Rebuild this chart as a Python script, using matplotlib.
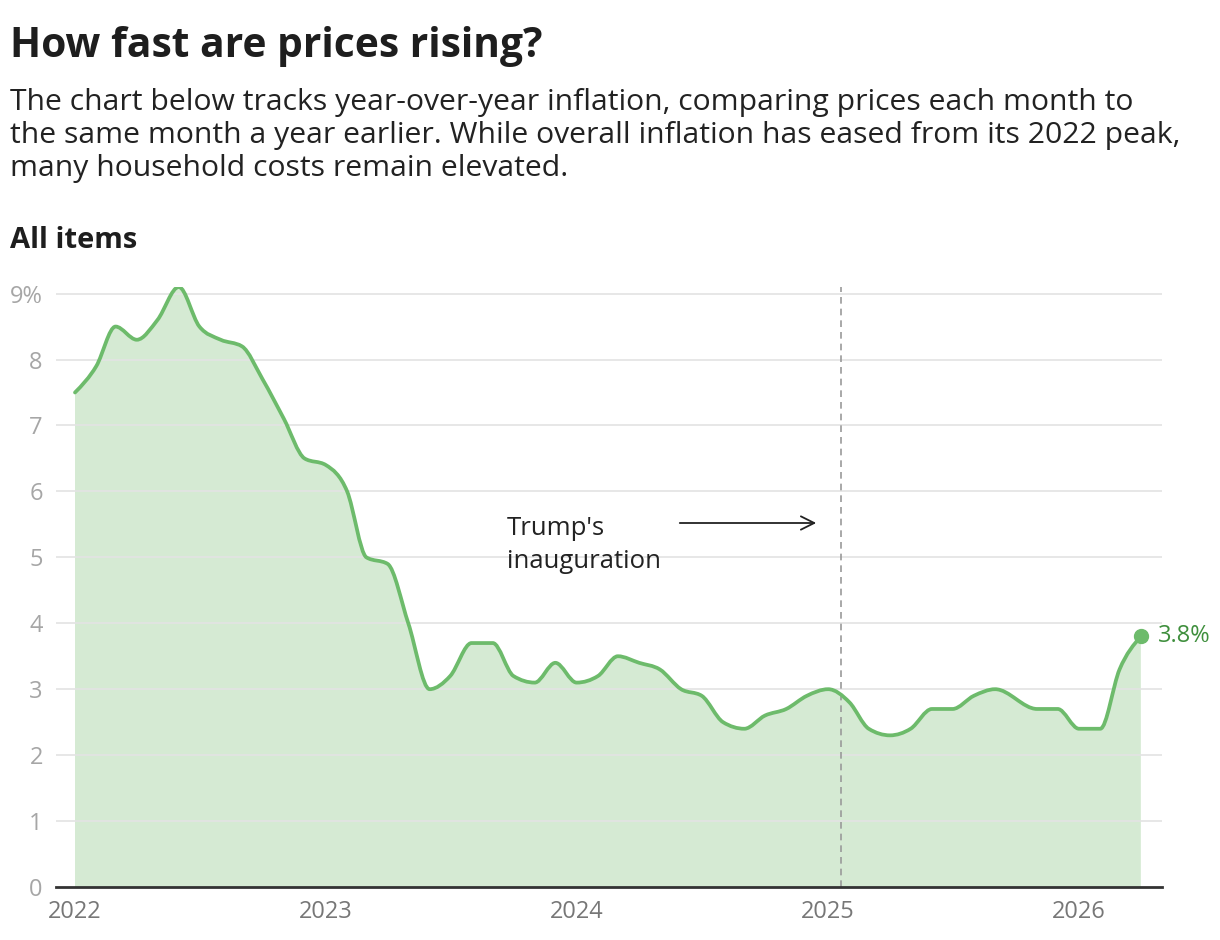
import matplotlib
matplotlib.use("Agg")
import matplotlib.pyplot as plt
import matplotlib.dates as mdates
from matplotlib.path import Path
from matplotlib.patches import PathPatch
import numpy as np
import datetime as dt

plt.rcParams['font.family'] = ['Open Sans', 'DejaVu Sans']

# ---- data ----
months = [
    "2022-01", "2022-02", "2022-03", "2022-04", "2022-05", "2022-06",
    "2022-07", "2022-08", "2022-09", "2022-10", "2022-11", "2022-12",
    "2023-01", "2023-02", "2023-03", "2023-04", "2023-05", "2023-06",
    "2023-07", "2023-08", "2023-09", "2023-10", "2023-11", "2023-12",
    "2024-01", "2024-02", "2024-03", "2024-04", "2024-05", "2024-06",
    "2024-07", "2024-08", "2024-09", "2024-10", "2024-11", "2024-12",
    "2025-01", "2025-02", "2025-03", "2025-04", "2025-05", "2025-06",
    "2025-07", "2025-08", "2025-09", "2025-11", "2025-12",
    "2026-01", "2026-02", "2026-03", "2026-04",
]
inflation = [
    7.5, 7.9, 8.5, 8.3, 8.6, 9.1,
    8.5, 8.3, 8.2, 7.7, 7.1, 6.5,
    6.4, 6.0, 5.0, 4.9, 4.0, 3.0,
    3.2, 3.7, 3.7, 3.2, 3.1, 3.4,
    3.1, 3.2, 3.5, 3.4, 3.3, 3.0,
    2.9, 2.5, 2.4, 2.6, 2.7, 2.9,
    3.0, 2.8, 2.4, 2.3, 2.4, 2.7,
    2.7, 2.9, 3.0, 2.7, 2.7,
    2.4, 2.4, 3.3, 3.8,
]
year_ticks = ["2022", "2023", "2024", "2025", "2026"]
y_ticks = [0, 1, 2, 3, 4, 5, 6, 7, 8, 9]
inauguration = "2025-01-20"
title = "How fast are prices rising?"
subtitle_lines = [
    "The chart below tracks year-over-year inflation, comparing prices each month to",
    "the same month a year earlier. While overall inflation has eased from its 2022 peak,",
    "many household costs remain elevated.",
]
panel_title = "All items"

LINE = "#6dbb6b"
FILL = "#d5ead3"
LABEL_GREEN = "#3f8f3d"

x = np.array([mdates.date2num(dt.datetime.strptime(m, "%Y-%m")) for m in months])
y = np.array(inflation, dtype=float)


def monotone_path(xs, ys):
    n = len(xs)
    t = np.zeros(n)
    for i in range(1, n - 1):
        h0 = xs[i] - xs[i - 1]
        h1 = xs[i + 1] - xs[i]
        s0 = (ys[i] - ys[i - 1]) / h0
        s1 = (ys[i + 1] - ys[i]) / h1
        p = (s0 * h1 + s1 * h0) / (h0 + h1)
        t[i] = (np.sign(s0) + np.sign(s1)) * min(abs(s0), abs(s1), 0.5 * abs(p))
    h = xs[1] - xs[0]
    t[0] = (3 * (ys[1] - ys[0]) / h - t[1]) / 2
    h = xs[-1] - xs[-2]
    t[-1] = (3 * (ys[-1] - ys[-2]) / h - t[-2]) / 2
    verts = [(xs[0], ys[0])]
    codes = [Path.MOVETO]
    for i in range(n - 1):
        dx = (xs[i + 1] - xs[i]) / 3
        verts += [(xs[i] + dx, ys[i] + dx * t[i]),
                  (xs[i + 1] - dx, ys[i + 1] - dx * t[i + 1]),
                  (xs[i + 1], ys[i + 1])]
        codes += [Path.CURVE4] * 3
    return verts, codes


W, H = 1220, 940
AX_L, AX_R, AX_T, AX_B = 56, 1162, 287, 887
fig = plt.figure(figsize=(W / 100, H / 100), dpi=100)
ax = fig.add_axes([AX_L / W, 1 - AX_B / H, (AX_R - AX_L) / W, (AX_B - AX_T) / H])

x0 = mdates.date2num(dt.datetime(2022, 1, 1))
PX_PER_DAY = 0.6872
YMAX = 9.1
ax.set_xlim(x0 - 19 / PX_PER_DAY, x0 + (AX_R - 75) / PX_PER_DAY)
ax.set_ylim(0, YMAX)


def px2x(p):
    return x0 + (p - 75) / PX_PER_DAY


def px2y(p):
    return (AX_B - p) / (AX_B - AX_T) * YMAX


verts, codes = monotone_path(x, y)
fill_verts = verts + [(x[-1], 0), (x[0], 0), (x[0], y[0])]
fill_codes = codes + [Path.LINETO, Path.LINETO, Path.CLOSEPOLY]
ax.add_patch(PathPatch(Path(fill_verts, fill_codes), facecolor=FILL,
                       edgecolor='none', zorder=1))
ax.add_patch(PathPatch(Path(verts, codes), facecolor='none', edgecolor=LINE,
                       lw=2.7, capstyle='round', joinstyle='round', zorder=3))
ax.plot([x[-1]], [y[-1]], 'o', color=LINE, ms=10, zorder=4)
ax.annotate(f"{y[-1]:.1f}%", xy=(x[-1], y[-1]), xytext=(12, 0),
            textcoords='offset points', color=LABEL_GREEN, fontsize=17,
            va='center', ha='left', zorder=5)

# grid
for v in y_ticks[1:]:
    ax.axhline(v, color="#e3e3e3", lw=1.2, zorder=2)

# inauguration line
xi = mdates.date2num(dt.datetime.strptime(inauguration, "%Y-%m-%d"))
ax.axvline(xi, color="#9a9a9a", lw=1.2, ls=(0, (4, 3)), zorder=2)

ax.annotate("", xy=(px2x(819), px2y(523)), xytext=(px2x(677), px2y(523)),
            arrowprops=dict(arrowstyle='->', color='#222222', lw=1.3,
                            mutation_scale=24), zorder=5)
ax.text(px2x(507), px2y(535), "Trump's", fontsize=18.5, color='#222222',
        va='baseline', ha='left')
ax.text(px2x(507), px2y(568), "inauguration", fontsize=18.5, color='#222222',
        va='baseline', ha='left')

ax.set_xticks([mdates.date2num(dt.datetime(int(yr), 1, 1)) for yr in year_ticks])
ax.set_xticklabels(year_ticks)
ax.set_yticks(y_ticks)
ax.set_yticklabels([f"{v}%" if v == 9 else str(v) for v in y_ticks])
ax.tick_params(axis='x', length=0, pad=9.5, labelsize=17, labelcolor='#777777')
ax.tick_params(axis='y', length=0, pad=9.5, labelsize=17, labelcolor='#a6a6a6')
for s in ['top', 'right', 'left']:
    ax.spines[s].set_visible(False)
ax.spines['bottom'].set_color('#333333')
ax.spines['bottom'].set_linewidth(2)
ax.spines['bottom'].set_zorder(6)

# titles
fig.text(10 / W, 1 - 57 / H, title, fontsize=29.3,
         fontweight='bold', color='#1e1e1e', ha='left', va='baseline')
for i, line in enumerate(subtitle_lines):
    fig.text(10 / W, 1 - (110 + 33 * i) / H, line, fontsize=21.7,
             color='#222222', ha='left', va='baseline')
fig.text(10 / W, 1 - 248 / H, panel_title, fontsize=21, fontweight='bold',
         color='#1e1e1e', ha='left', va='baseline')

fig.savefig("out.png", dpi=100)
